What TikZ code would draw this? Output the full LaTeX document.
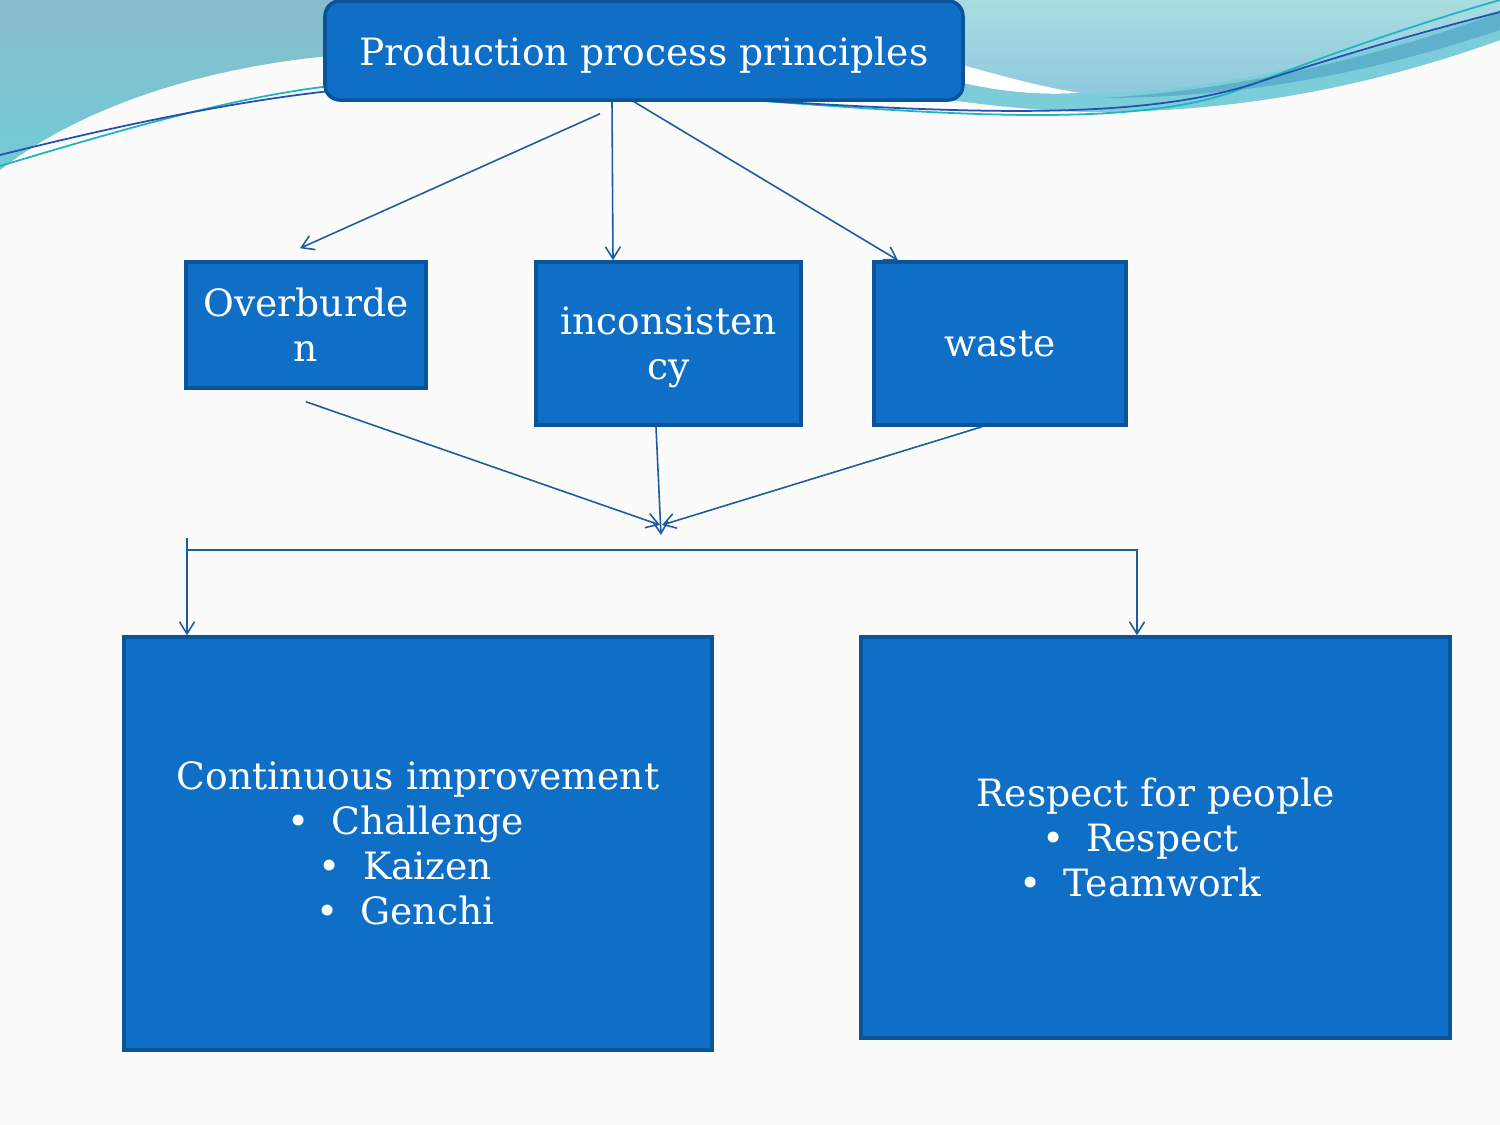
\documentclass[tikz,border=0pt]{standalone}
\usepackage{fontspec}
\setmainfont{DejaVu Serif}
\usetikzlibrary{arrows.meta, positioning, calc}
\definecolor{boxblue}{HTML}{0F6FC6}
\definecolor{boxedge}{HTML}{0C5499}
\definecolor{linkblue}{HTML}{1F5B9E}
\definecolor{waveA}{HTML}{8ABCCC}
\definecolor{waveB}{HTML}{70CBD6}
\definecolor{waveC}{HTML}{A9DDE1}
\definecolor{waveD}{HTML}{8AC5DE}
\definecolor{waveE}{HTML}{7ACDD9}
\definecolor{waveF}{HTML}{5FB0CB}
\definecolor{teal}{HTML}{1FB5C0}
\definecolor{deep}{HTML}{2550B0}
\begin{document}
\begin{tikzpicture}[>={Straight Barb[length=1.2mm,width=1.5mm]},
  every node/.style={font=\fontsize{10.7}{12.8}\selectfont},
  bluebox/.style={draw=boxedge, line width=1pt, fill=boxblue, text=white, align=center},
  link/.style={draw=linkblue, line width=0.45pt}]
  \useasboundingbox (0,0) rectangle (15,-11.25);
  \fill[white!97!gray] (0,0) rectangle (15,-11.25);
  % background waves
  \shade[top color=waveA, bottom color=waveB] (0,0) -- (3.4,0) -- (3.4,-0.55)
    .. controls (2.2,-0.65) and (0.9,-1.0) .. (0,-1.7) -- cycle;
  \shade[top color=waveC, bottom color=waveD] (9.5,0) -- (15,0) -- (15,-0.4)
    .. controls (13.6,-0.9) and (12.3,-1.12) .. (10.9,-1.12)
    .. controls (10.3,-1.1) and (9.9,-1.05) .. (9.5,-1.0) -- cycle;
  \fill[white] (9.5,-0.62) .. controls (9.9,-0.72) and (10.3,-0.85) .. (10.8,-0.93)
    .. controls (10.3,-0.96) and (9.9,-0.9) .. (9.5,-0.8) -- cycle;
  \fill[waveE] (9.5,-0.8) .. controls (9.9,-0.9) and (10.3,-0.96) .. (10.8,-0.93)
    .. controls (12.2,-0.95) and (13.8,-0.5) .. (15,-0.1) -- (15,-0.4)
    .. controls (13.6,-0.9) and (12.3,-1.12) .. (10.9,-1.12)
    .. controls (10.3,-1.1) and (9.9,-1.05) .. (9.5,-1.0) -- cycle;
  \fill[waveF] (11.0,-0.98) .. controls (12.5,-0.9) and (14,-0.5) .. (15,-0.12)
    -- (15,-0.3) .. controls (13.8,-0.7) and (12.5,-0.98) .. (11.0,-0.98) -- cycle;
  \draw[teal, line width=0.5pt] (0,-1.66) .. controls (1.2,-1.3) and (2.4,-0.95) .. (3.4,-0.85);
  \draw[deep, line width=0.5pt] (0,-1.55) .. controls (1.2,-1.25) and (2.4,-1.0) .. (3.4,-0.9);
  \draw[teal, line width=0.5pt] (7.5,-1.0) .. controls (9.5,-1.15) and (11.5,-1.3) .. (12.5,-0.85)
    .. controls (13.4,-0.5) and (14.3,-0.2) .. (15,0);
  \draw[deep, line width=0.5pt] (7.5,-1.0) .. controls (9.5,-1.12) and (11.3,-1.22) .. (12.5,-0.85)
    .. controls (13.4,-0.55) and (14.3,-0.3) .. (15,-0.12);

  % boxes
  \node[bluebox, rounded corners=0.15cm, minimum width=6.38cm, minimum height=0.99cm,
    text height=0.30cm, text depth=0cm]
    (title) at (6.44,-0.505) {Production process principles};
  \node[bluebox, minimum width=2.4cm, minimum height=1.26cm]
    (over) at (3.06,-3.25) {Overburde\\n};
  \node[bluebox, minimum width=2.65cm, minimum height=1.63cm]
    (incons) at (6.685,-3.435) {\\[-0.09cm]inconsisten\\cy};
  \node[bluebox, minimum width=2.52cm, minimum height=1.63cm]
    (waste) at (10.0,-3.435) {waste};
  \node[bluebox, minimum width=5.88cm, minimum height=4.13cm]
    (cimp) at (4.18,-8.435) {Continuous improvement\\
      \textbullet\hspace{0.22cm}Challenge\rule{0.25cm}{0pt}\\
      \textbullet\hspace{0.22cm}Kaizen\rule{0.25cm}{0pt}\\
      \textbullet\hspace{0.22cm}Genchi\rule{0.25cm}{0pt}};
  \node[bluebox, minimum width=5.89cm, minimum height=4.01cm]
    (rpeople) at (11.555,-8.375) {Respect for people\\
      \textbullet\hspace{0.22cm}Respect\rule{0.3cm}{0pt}\\
      \textbullet\hspace{0.22cm}Teamwork\rule{0.3cm}{0pt}};

  % connectors
  \coordinate (meet) at (6.61,-5.30);
  \coordinate (bus) at (1.87,-5.38);
  \draw[link, ->] ([shift={(-0.44,-0.12)}]title.south) -- ([shift={(-0.06,0.12)}]over.north);
  \draw[link, ->] ([xshift=-0.32cm]title.south) -- ([xshift=-0.555cm]incons.north);
  \draw[link, ->] ([xshift=-0.10cm]title.south) -- ([xshift=-1.02cm]waste.north);
  \draw[link, ->] ([yshift=-0.12cm]over.south) -- ([shift={(-0.01,0.05)}]meet);
  \draw[link, ->] ([xshift=-0.125cm]incons.south) -- ([yshift=-0.05cm]meet);
  \draw[link, ->] ([xshift=-0.18cm]waste.south) -- ([shift={(0.01,0.05)}]meet);
  \draw[link, ->] (bus) -- ([xshift=-2.31cm]cimp.north);
  \draw[link, ->] ([yshift=-0.12cm]bus) -| ([xshift=-0.185cm]rpeople.north);
\end{tikzpicture}
\end{document}
